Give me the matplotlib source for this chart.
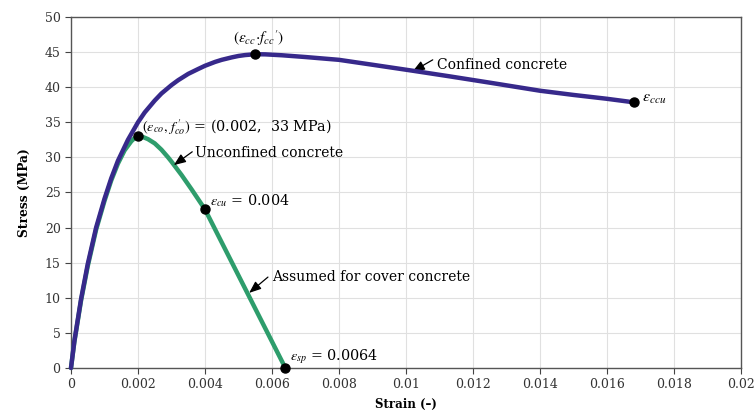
import matplotlib
matplotlib.use("Agg")
import matplotlib.pyplot as plt

# confined concrete curve
conf_strain = [0, 0.0001, 0.0003, 0.0005, 0.00075, 0.001, 0.0012, 0.0014, 0.0017, 0.002,
               0.0022, 0.0025, 0.0027, 0.003, 0.0032, 0.0035, 0.0038, 0.004, 0.0043,
               0.0045, 0.0048, 0.005, 0.0052, 0.0055, 0.0058, 0.0063, 0.007, 0.008,
               0.009, 0.0102, 0.0113, 0.0125, 0.014, 0.015, 0.016, 0.0168]
conf_stress = [0, 3.8, 9.8, 14.8, 20, 24.1, 27.0, 29.5, 32.5, 35.0,
               36.4, 38.1, 39.1, 40.3, 41.0, 41.9, 42.6, 43.05, 43.6,
               43.9, 44.25, 44.45, 44.58, 44.7, 44.68, 44.55, 44.3, 43.9,
               43.2, 42.35, 41.55, 40.65, 39.5, 38.9, 38.35, 37.85]

# unconfined / cover concrete curve
unc_strain = [0, 0.0001, 0.0003, 0.0005, 0.00075, 0.001, 0.0012, 0.0014, 0.0016, 0.0018,
              0.0019, 0.002, 0.0021, 0.0023, 0.0025, 0.0027, 0.0029, 0.003, 0.0033,
              0.0036, 0.004, 0.0064]
unc_stress = [0, 3.7, 9.6, 14.5, 19.7, 23.8, 26.7, 29.1, 31.0, 32.3,
              32.75, 33, 33.0, 32.6, 32.0, 31.1, 30.0, 29.4, 27.5,
              25.45, 22.6, 0]

# marked points
pt_strain = [0.0055, 0.0168, 0.002, 0.004, 0.0064]
pt_stress = [44.7, 37.85, 33, 22.6, 0]

xticks = [0, 0.002, 0.004, 0.006, 0.008, 0.01, 0.012, 0.014, 0.016, 0.018, 0.02]
xtick_labels = ["0", "0.002", "0.004", "0.006", "0.008", "0.01", "0.012", "0.014",
                "0.016", "0.018", "0.02"]
yticks = [0, 5, 10, 15, 20, 25, 30, 35, 40, 45, 50]

plt.rcParams["font.family"] = ["DejaVu Serif"]
plt.rcParams["mathtext.fontset"] = "stix"

fig = plt.figure(figsize=(7.56, 4.13), dpi=100)
ax = fig.add_axes([0.0939, 0.109, 0.8861, 0.8498])

ax.plot(unc_strain, unc_stress, color="#2e9d6c", lw=3.2, zorder=3, clip_on=False,
        solid_capstyle="round", solid_joinstyle="round")
ax.plot(conf_strain, conf_stress, color="#37298b", lw=3.2, zorder=4, clip_on=False,
        solid_capstyle="round", solid_joinstyle="round")
ax.plot(pt_strain, pt_stress, "o", color="black", ms=6.5, zorder=5, clip_on=False)

ax.set_xlim(0, 0.02)
ax.set_ylim(0, 50)
ax.set_xticks(xticks)
ax.set_xticklabels(xtick_labels)
ax.set_yticks(yticks)
ax.tick_params(labelsize=9, length=4, color="#444444", labelcolor="#333333")
ax.grid(True, color="#e0e0e0", lw=0.8)
ax.set_axisbelow(True)
for s in ax.spines.values():
    s.set_color("#555555")
    s.set_linewidth(1.0)

ax.set_xlabel("Strain (–)", fontsize=8.5, fontweight="bold", labelpad=5)
ax.set_ylabel("Stress (MPa)", fontsize=8.8, fontweight="bold", labelpad=10)

fs = 10
arrow = dict(arrowstyle="-|>,head_length=0.55,head_width=0.22", color="black", lw=0.9,
             mutation_scale=13, shrinkA=0, shrinkB=0)

ax.text(0.0056, 47.0, r"$(\varepsilon_{cc}{\cdot}f_{cc}{'})$", fontsize=fs + 1,
        ha="center", va="center")
ax.text(0.00212, 34.3, r"$(\varepsilon_{co},\,f_{co}^{\,\prime})$ = (0.002,  33 MPa)",
        fontsize=fs + 0.3, ha="left", va="center")

ax.annotate("", xy=(0.00307, 28.9), xytext=(0.00362, 30.8), arrowprops=arrow)
ax.text(0.0037, 30.6, "Unconfined concrete", fontsize=fs, ha="left", va="center")

ax.text(0.00415, 23.9, r"$\varepsilon_{cu}$ = 0.004", fontsize=fs + 0.3, ha="left",
        va="center")

ax.annotate("", xy=(0.00532, 10.7), xytext=(0.00588, 12.95), arrowprops=arrow)
ax.text(0.0060, 12.9, "Assumed for cover concrete", fontsize=fs, ha="left", va="center")

ax.text(0.00654, 1.6, r"$\varepsilon_{sp}$ = 0.0064", fontsize=fs + 0.3, ha="left",
        va="center")

ax.annotate("", xy=(0.0102, 42.25), xytext=(0.0108, 43.9), arrowprops=arrow)
ax.text(0.01093, 43.2, "Confined concrete", fontsize=fs, ha="left", va="center")

ax.text(0.01705, 38.6, r"$\varepsilon_{ccu}$", fontsize=fs + 1.5, ha="left", va="center")

fig.savefig("out.png", dpi=100)
